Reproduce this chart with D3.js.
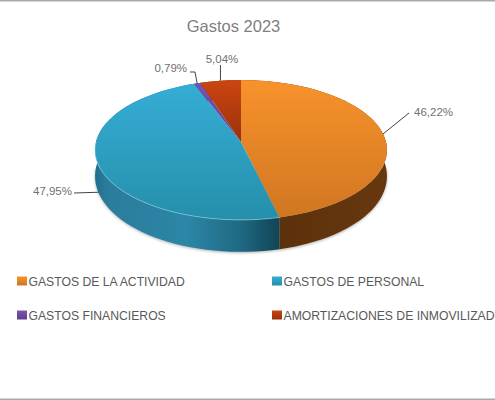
<!DOCTYPE html>
<html><head><meta charset="utf-8">
<script src="https://cdn.jsdelivr.net/npm/d3@7"></script>
<style>html,body{margin:0;padding:0;background:#fff;overflow:hidden}svg{display:block}text{font-family:"Liberation Sans",sans-serif}</style>
</head><body><svg id="c" width="495" height="400"></svg>
<script>
const title = "Gastos 2023";
const categories = ["GASTOS DE LA ACTIVIDAD","GASTOS DE PERSONAL","GASTOS FINANCIEROS","AMORTIZACIONES DE INMOVILIZADO"];
const values = [46.22,47.95,0.79,5.04];
const valueLabels = ["46,22%","47,95%","0,79%","5,04%"];
const topColorsA = ["#f8922b","#36aed6","#7a55b0","#cb4510"];
const topColorsB = ["#cf7622","#258fab","#5c3f90","#98310a"];
const wallStops = [["#673810","#592e09"],["#2a7e9f","#114456"],["#4e3580","#4e3580"],["#7c2a08","#7c2a08"]];

const cx=241, cy=142, A=145, B=69, p=0.114;
const svg=d3.select("#c");
const defs=svg.append("defs");
const arcs=d3.pie().sort(null).value(d=>d)(values);
const proj=t=>{const u=Math.sin(t),v=Math.cos(t),w=1+p*v;return [cx+A*u/w,cy-B*v/w];};
const depth=t=>25.5+6.5*(-Math.cos(t));
const projB=t=>{const q=proj(t);return [q[0],q[1]+depth(t)];};
const samples=(a,b)=>d3.range(0,61).map(i=>a+(b-a)*i/60);
const line=d3.line();

svg.append("rect").attr("width",495).attr("height",1.5).attr("fill","#a9a9a9");
svg.append("rect").attr("y",398.5).attr("width",495).attr("height",1.5).attr("fill","#a9a9a9");

defs.append("filter").attr("id","soft").append("feGaussianBlur").attr("stdDeviation",1.6);
svg.append("path").attr("d",line(samples(Math.PI/2,Math.PI*1.5).map(t=>{const q=projB(t);return [q[0],q[1]+1];}))+"Z")
  .attr("fill","#000").attr("opacity",.3).attr("filter","url(#soft)");

arcs.forEach((d,i)=>{
  const ext=d3.extent(samples(d.startAngle,d.endAngle).map(t=>proj(t)[0]));
  const g=defs.append("linearGradient").attr("id","w"+i).attr("gradientUnits","userSpaceOnUse")
    .attr("x1",i===1?95:ext[0]).attr("x2",ext[1]).attr("y1",0).attr("y2",0);
  if(i===1){
    g.append("stop").attr("offset",0).attr("stop-color","#1f6f8c");
    g.append("stop").attr("offset",.06).attr("stop-color","#2a7c9c");
    g.append("stop").attr("offset",.5).attr("stop-color","#2c86a6");
    g.append("stop").attr("offset",.78).attr("stop-color","#1f6a84");
    g.append("stop").attr("offset",1).attr("stop-color",wallStops[i][1]);
  } else {
    g.append("stop").attr("offset",0).attr("stop-color",i===0?wallStops[i][1]:wallStops[i][0]);
    g.append("stop").attr("offset",1).attr("stop-color",i===0?wallStops[i][0]:wallStops[i][1]);
  }
  const top=samples(d.startAngle,d.endAngle).map(proj);
  const bot=samples(d.startAngle,d.endAngle).map(projB).reverse();
  svg.append("path").attr("d",line(top.concat(bot))+"Z").attr("fill",`url(#w${i})`);
});
arcs.forEach((d,i)=>{
  const g=defs.append("linearGradient").attr("id","t"+i).attr("gradientUnits","userSpaceOnUse")
    .attr("x1",0).attr("x2",0).attr("y1",80).attr("y2",220);
  g.append("stop").attr("offset",0).attr("stop-color",topColorsA[i]);
  g.append("stop").attr("offset",i>1?.45:1).attr("stop-color",topColorsB[i]);
  svg.append("path").attr("d",line([[cx,cy]].concat(samples(d.startAngle,d.endAngle).map(proj)))+"Z")
    .attr("fill",`url(#t${i})`);
});
svg.append("path").attr("d",line(samples(arcs[1].startAngle,Math.PI*1.5).map(proj))).attr("fill","none")
  .attr("stroke","#9fe0f0").attr("stroke-opacity",.55).attr("stroke-width",1);

svg.append("text").attr("x",233.5).attr("y",32).attr("text-anchor","middle").attr("font-size",16.5).attr("fill","#7f7f7f").text(title);

const mid=arcs.map(d=>(d.startAngle+d.endAngle)/2);
const lead=[
  {a:proj(mid[0]),via:[[409,113]],tx:414,ty:116,anchor:"start"},
  {a:[proj(mid[1])[0]+1,proj(mid[1])[1]+29],via:[[74,193]],tx:72,ty:195,anchor:"end"},
  {a:proj(mid[2]),via:[[195,72],[190,72]],tx:187,ty:72,anchor:"end"},
  {a:proj(mid[3]),via:[[proj(mid[3])[0],65]],tx:222,ty:63,anchor:"middle"}
];
lead.forEach((l,i)=>{
  svg.append("path").attr("d",line([l.a].concat(l.via))).attr("fill","none").attr("stroke","#444").attr("stroke-width",1);
  svg.append("text").attr("x",l.tx).attr("y",l.ty).attr("text-anchor",l.anchor).attr("font-size",11.5).attr("fill","#707070").text(valueLabels[i]);
});

const lx=[17,272,17,272], ly=[281,281,315,315];
categories.forEach((c,i)=>{
  const g=defs.append("linearGradient").attr("id","l"+i).attr("x1",0).attr("x2",0).attr("y1",0).attr("y2",1);
  g.append("stop").attr("offset",0).attr("stop-color",topColorsA[i]);
  g.append("stop").attr("offset",1).attr("stop-color",topColorsB[i]);
  svg.append("rect").attr("x",lx[i]).attr("y",ly[i]-4.5).attr("width",10).attr("height",9).attr("fill",`url(#l${i})`);
  svg.append("text").attr("x",lx[i]+11.5).attr("y",ly[i]+4.5).attr("font-size",12.2).attr("fill","#595959").text(c);
});
</script></body></html>
